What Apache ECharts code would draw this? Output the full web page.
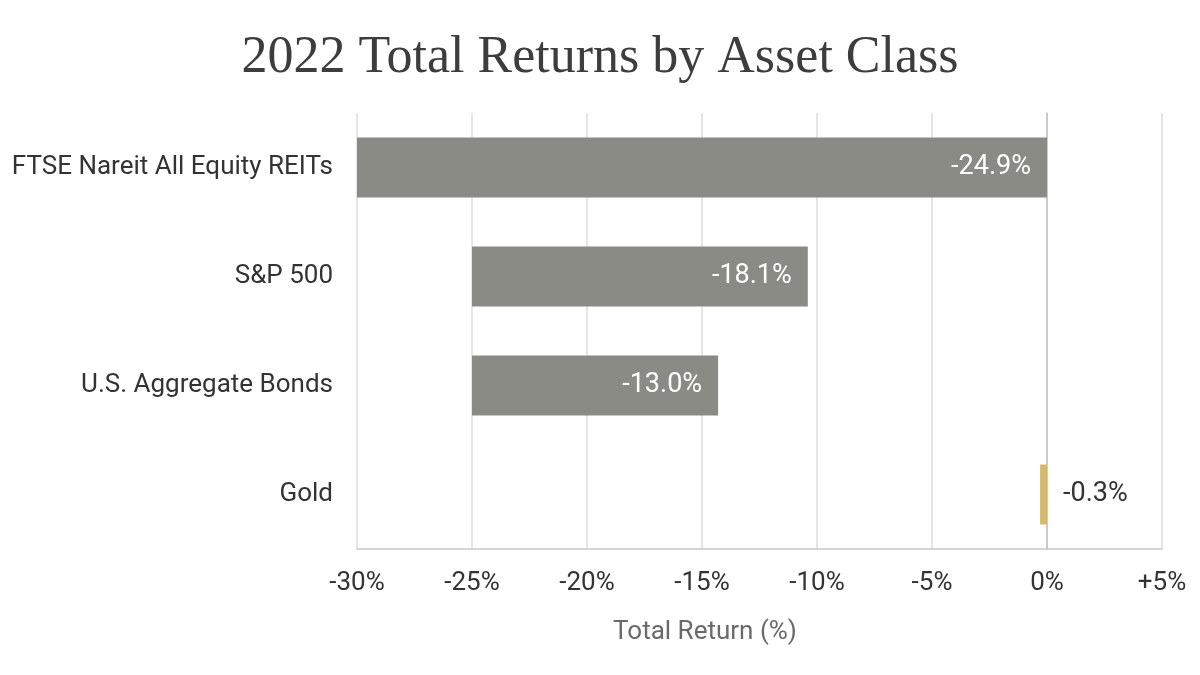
<!DOCTYPE html>
<html>
<head>
<meta charset="utf-8">
<title>2022 Total Returns by Asset Class</title>
<script src="https://cdn.jsdelivr.net/npm/echarts@6/dist/echarts.min.js"></script>
<style>
  html, body { margin: 0; padding: 0; background: #fff; }
  #chart { width: 1200px; height: 675px; }
</style>
</head>
<body>
<div id="chart"></div>
<script>
// data
var categories = ['FTSE Nareit All Equity REITs', 'S&P 500', 'U.S. Aggregate Bonds', 'Gold'];
var returns = [-24.9, -18.1, -13.0, -0.3];     // printed labels
var barStart = [-30, -25, -25, -0.3];          // left end of each bar as drawn
var barEnd = [0, -10.4, -14.3, 0];             // right end of each bar as drawn
var barColors = ['#8b8b86', '#8b8b86', '#8b8b86', '#d4b96c'];
var xTicks = { min: -30, max: 5, step: 5 };

var sansFont = '"Roboto", "Liberation Sans", sans-serif';

var chart = echarts.init(document.getElementById('chart'));

var option = {
    backgroundColor: '#ffffff',
    animation: false,
    title: [{
        text: '2022 Total Returns by Asset Class',
        left: 'center',
        top: 27,
        textStyle: {
            fontFamily: '"Liberation Serif", serif',
            fontWeight: 'normal',
            fontSize: 52,
            color: '#3d3d3d'
        }
    }, {
        text: 'Total Return (%)',
        left: 700,
        top: 614,
        textAlign: 'center',
        textStyle: {
            fontFamily: sansFont,
            fontWeight: 'normal',
            fontSize: 26,
            color: '#6a6a6a'
        }
    }],
    grid: {
        left: 357,
        right: 38,
        top: 113,
        bottom: 126
    },
    xAxis: {
        type: 'value',
        min: xTicks.min,
        max: xTicks.max,
        interval: xTicks.step,
        axisLine: { show: true, lineStyle: { color: '#c8c8c8', width: 1.5 } },
        axisTick: { show: false },
        splitLine: { show: true, lineStyle: { color: '#dcdcdc', width: 1.5 } },
        axisLabel: {
            margin: 21,
            fontFamily: sansFont,
            fontSize: 26,
            color: '#333',
            formatter: function (v) { return v > 0 ? '+' + v + '%' : v + '%'; }
        }
    },
    yAxis: {
        type: 'category',
        data: categories,
        inverse: true,
        axisLine: { show: true, lineStyle: { color: '#c0c0c0', width: 1.5 } },
        axisTick: { show: false },
        axisLabel: {
            margin: 24,
            fontFamily: sansFont,
            fontSize: 26,
            color: '#333'
        }
    },
    series: [{
        // invisible offset from zero to the right end of each bar
        type: 'bar',
        stack: 'r',
        silent: true,
        barWidth: 60,
        itemStyle: { color: 'transparent' },
        data: barEnd
    }, {
        type: 'bar',
        stack: 'r',
        barWidth: 60,
        data: barStart.map(function (s, i) {
            var last = i === barStart.length - 1;
            return {
                value: s - barEnd[i],
                itemStyle: { color: barColors[i] },
                label: last ? { position: 'right', color: '#333' } : {}
            };
        }),
        label: {
            show: true,
            position: 'insideRight',
            distance: 16,
            fontFamily: sansFont,
            fontSize: 27,
            color: '#ffffff',
            formatter: function (p) { return returns[p.dataIndex].toFixed(1) + '%'; }
        }
    }]
};

chart.setOption(option);
</script>
</body>
</html>
